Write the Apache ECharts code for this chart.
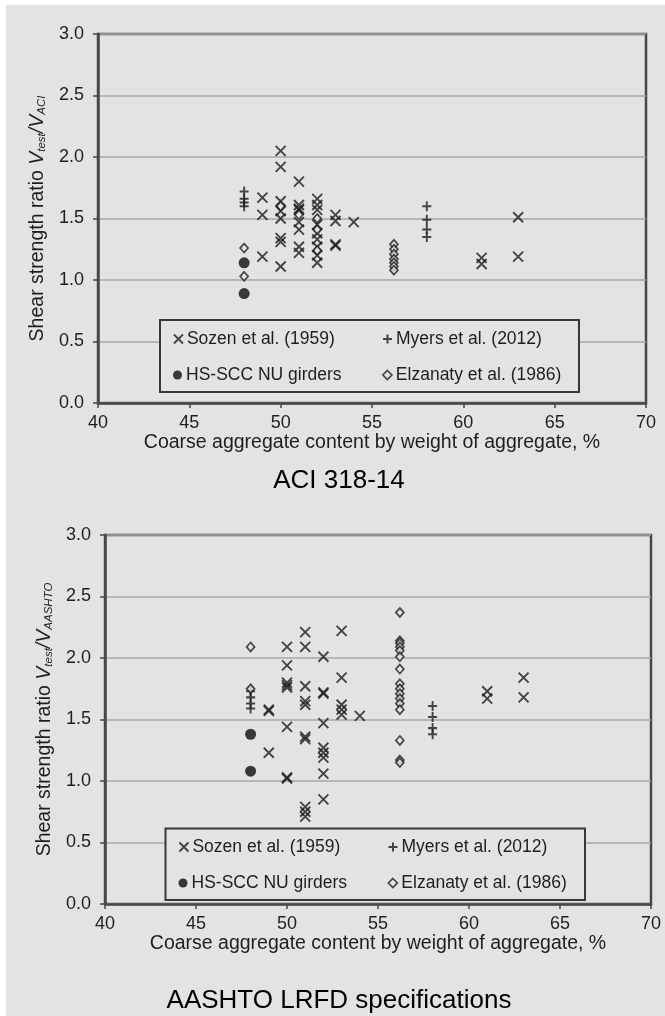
<!DOCTYPE html>
<html>
<head>
<meta charset="utf-8">
<script src="https://cdn.jsdelivr.net/npm/echarts@6/dist/echarts.min.js"></script>
<style>
  html, body { margin: 0; padding: 0; background: #ffffff; }
  #bg { position: absolute; left: 6px; top: 5px; width: 659px; height: 1011px; background: #e3e3e3; }
  #chart { position: absolute; left: 0; top: 0; width: 665px; height: 1016px; }
</style>
</head>
<body>
<div id="bg"></div>
<div id="chart"></div>
<script>
// ---------- DATA ----------
const xTicks = [40, 45, 50, 55, 60, 65, 70];
const yTicks = [0.0, 0.5, 1.0, 1.5, 2.0, 2.5, 3.0];
const seriesNames = ['Sozen et al. (1959)', 'Myers et al. (2012)', 'HS-SCC NU girders', 'Elzanaty et al. (1986)'];
const captions = ['ACI 318-14', 'AASHTO LRFD specifications'];

// ACI 318-14 panel: [coarse aggregate %, Vtest/VACI]
const aciSozen = [
  [49, 1.67], [49, 1.53], [49, 1.19],
  [50, 2.05], [50, 1.92], [50, 1.64], [50, 1.56], [50, 1.50], [50, 1.34], [50, 1.31], [50, 1.11],
  [51, 1.80], [51, 1.61], [51, 1.58], [51, 1.57], [51, 1.47], [51, 1.41], [51, 1.27], [51, 1.22],
  [52, 1.66], [52, 1.61], [52, 1.57], [52, 1.45], [52, 1.38], [52, 1.33], [52, 1.27], [52, 1.20], [52, 1.14],
  [53, 1.53], [53, 1.48], [53, 1.29], [53, 1.28],
  [54, 1.47],
  [61, 1.18], [61, 1.13],
  [63, 1.51], [63, 1.19]
];
const aciMyers = [
  [48, 1.72], [48, 1.66], [48, 1.63], [48, 1.60],
  [58, 1.60], [58, 1.49], [58, 1.41], [58, 1.35]
];
const aciHSSCC = [[48, 1.14], [48, 0.89]];
const aciElzanaty = [
  [48, 1.26], [48, 1.03], [50, 1.60], [51, 1.53],
  [52, 1.50], [52, 1.41], [52, 1.24],
  [56.2, 1.29], [56.2, 1.25], [56.2, 1.21], [56.2, 1.17], [56.2, 1.14], [56.2, 1.11], [56.2, 1.08]
];

// AASHTO LRFD panel: [coarse aggregate %, Vtest/VAASHTO]
const aashtoSozen = [
  [49, 1.58], [49, 1.57], [49, 1.23],
  [50, 2.09], [50, 1.94], [50, 1.80], [50, 1.78], [50, 1.76], [50, 1.44], [50, 1.03], [50, 1.02],
  [51, 2.21], [51, 2.09], [51, 1.77], [51, 1.65], [51, 1.62], [51, 1.36], [51, 1.34], [51, 0.79], [51, 0.75], [51, 0.71],
  [52, 2.01], [52, 1.72], [52, 1.71], [52, 1.47], [52, 1.27], [52, 1.23], [52, 1.19], [52, 1.06], [52, 0.85],
  [53, 2.22], [53, 1.84], [53, 1.62], [53, 1.58], [53, 1.54],
  [54, 1.53],
  [61, 1.73], [61, 1.67],
  [63, 1.84], [63, 1.68]
];
const aashtoMyers = [
  [48, 1.73], [48, 1.68], [48, 1.63], [48, 1.59],
  [58, 1.61], [58, 1.52], [58, 1.43], [58, 1.38]
];
const aashtoHSSCC = [[48, 1.38], [48, 1.08]];
const aashtoElzanaty = [
  [48, 2.09], [48, 1.75],
  [56.2, 2.37], [56.2, 2.14], [56.2, 2.12], [56.2, 2.09], [56.2, 2.06], [56.2, 2.01], [56.2, 1.91],
  [56.2, 1.79], [56.2, 1.75], [56.2, 1.71], [56.2, 1.67], [56.2, 1.63], [56.2, 1.58],
  [56.2, 1.33], [56.2, 1.17], [56.2, 1.15]
];

// ---------- STYLE ----------
const FONT = '"Liberation Sans", Arial, Helvetica, sans-serif';
const BG = '#e3e3e3';
const FRAME = '#474747';
const INK = '#1e1e1e';
const GRIDLINE = '#a9a7a5';

const SYM_X = 'path://M0,0L10,10M10,0L0,10';
const SYM_PLUS = 'path://M5,0L5,10M0,5L10,5';

const markerStyles = [
  { symbol: SYM_X, symbolSize: 10, itemStyle: { color: 'rgba(0,0,0,0)', borderColor: '#1c1c1c', borderWidth: 1.9 } },
  { symbol: SYM_PLUS, symbolSize: [9, 10], itemStyle: { color: 'rgba(0,0,0,0)', borderColor: '#1c1c1c', borderWidth: 2 } },
  { symbol: 'circle', symbolSize: 11, itemStyle: { color: '#0c0c0c', borderWidth: 0 } },
  { symbol: 'diamond', symbolSize: [8, 9], itemStyle: { color: BG, borderColor: '#1e1e1e', borderWidth: 1.7 } }
];

const panels = [
  { grid: { left: 98, top: 34, width: 548, height: 369 }, sub: 'ACI', data: [aciSozen, aciMyers, aciHSSCC, aciElzanaty],
    legendBox: { x: 160, y: 320, w: 419, h: 72 }, legendCols: [173, 382], legendRows: [329, 365], caption: { x: 339, y: 468 } },
  { grid: { left: 105, top: 535, width: 546, height: 369 }, sub: 'AASHTO', data: [aashtoSozen, aashtoMyers, aashtoHSSCC, aashtoElzanaty],
    legendBox: { x: 165.5, y: 828.5, w: 419.5, h: 71.5 }, legendCols: [178.5, 387.5], legendRows: [837, 873], caption: { x: 339, y: 988 } }
];

const grids = [], xAxes = [], yAxes = [], series = [], legends = [], graphics = [], titles = [];

panels.forEach((p, pi) => {
  grids.push(Object.assign({ show: true, borderColor: FRAME, borderWidth: 2.5, backgroundColor: 'transparent' }, p.grid));
  xAxes.push({
    gridIndex: pi, type: 'value', min: xTicks[0], max: xTicks[xTicks.length - 1], interval: 5,
    axisLine: { show: true, onZero: false, lineStyle: { color: FRAME, width: 2.5 } },
    axisTick: { show: true, length: 5, lineStyle: { color: FRAME, width: 1.5 } },
    axisLabel: { margin: 11, fontSize: 18, color: INK, fontFamily: FONT },
    splitLine: { show: false },
    name: 'Coarse aggregate content by weight of aggregate, %',
    nameLocation: 'middle', nameGap: 30,
    nameTextStyle: { fontSize: 19.5, color: INK, fontFamily: FONT }
  });
  yAxes.push({
    gridIndex: pi, type: 'value', min: yTicks[0], max: yTicks[yTicks.length - 1], interval: 0.5,
    axisLine: { show: true, onZero: false, lineStyle: { color: FRAME, width: 2.5 } },
    axisTick: { show: true, length: 5, lineStyle: { color: FRAME, width: 1.5 } },
    axisLabel: { margin: 14, fontSize: 18, color: INK, fontFamily: FONT, formatter: v => v.toFixed(1) },
    splitLine: { show: true, lineStyle: { color: GRIDLINE, width: 1.5 } },
    name: 'Shear strength ratio {v|V}{s|test}{v|/V}{s|' + p.sub + '}',
    nameLocation: 'middle', nameGap: 46,
    nameTextStyle: {
      fontSize: 19.5, color: INK, fontFamily: FONT,
      rich: {
        v: { fontSize: 19.5, color: INK, fontFamily: FONT, fontStyle: 'italic' },
        s: { fontSize: 11.5, color: INK, fontFamily: FONT, fontStyle: 'italic', verticalAlign: 'bottom', padding: [9, 0, 0, 0] }
      }
    }
  });
  p.data.forEach((d, si) => {
    series.push(Object.assign({
      type: 'scatter', name: seriesNames[si], xAxisIndex: pi, yAxisIndex: pi, data: d, z: 3,
      emphasis: { disabled: true }, animation: false
    }, JSON.parse(JSON.stringify(markerStyles[si]))));
  });
  // legend box
  graphics.push({
    type: 'rect', z: 2,
    shape: { x: p.legendBox.x, y: p.legendBox.y, width: p.legendBox.w, height: p.legendBox.h },
    style: { fill: BG, stroke: '#383838', lineWidth: 2 }
  });
  // 2x2 legend items
  seriesNames.forEach((nm, si) => {
    const col = si % 2, row = Math.floor(si / 2);
    const m = markerStyles[si];
    legends.push({
      show: true, selectedMode: false, orient: 'horizontal', z: 10, padding: 0,
      left: p.legendCols[col], top: p.legendRows[row],
      itemWidth: 9, itemHeight: 9,
      textStyle: { fontSize: 17.5, color: INK, fontFamily: FONT, lineHeight: 20, padding: [0, 0, 0, -1] },
      data: [{ name: nm, icon: m.symbol, itemStyle: Object.assign({}, m.itemStyle) }]
    });
  });
  titles.push({
    text: captions[pi], left: p.caption.x, top: p.caption.y, textAlign: 'center', padding: 0,
    textStyle: { fontSize: 26, fontWeight: 'normal', color: '#000', fontFamily: FONT }
  });
});

const chart = echarts.init(document.getElementById('chart'), null, { renderer: 'canvas' });
chart.setOption({
  backgroundColor: 'transparent',
  animation: false,
  title: titles,
  grid: grids,
  xAxis: xAxes,
  yAxis: yAxes,
  legend: legends,
  graphic: graphics,
  series: series
});
</script>
</body>
</html>
